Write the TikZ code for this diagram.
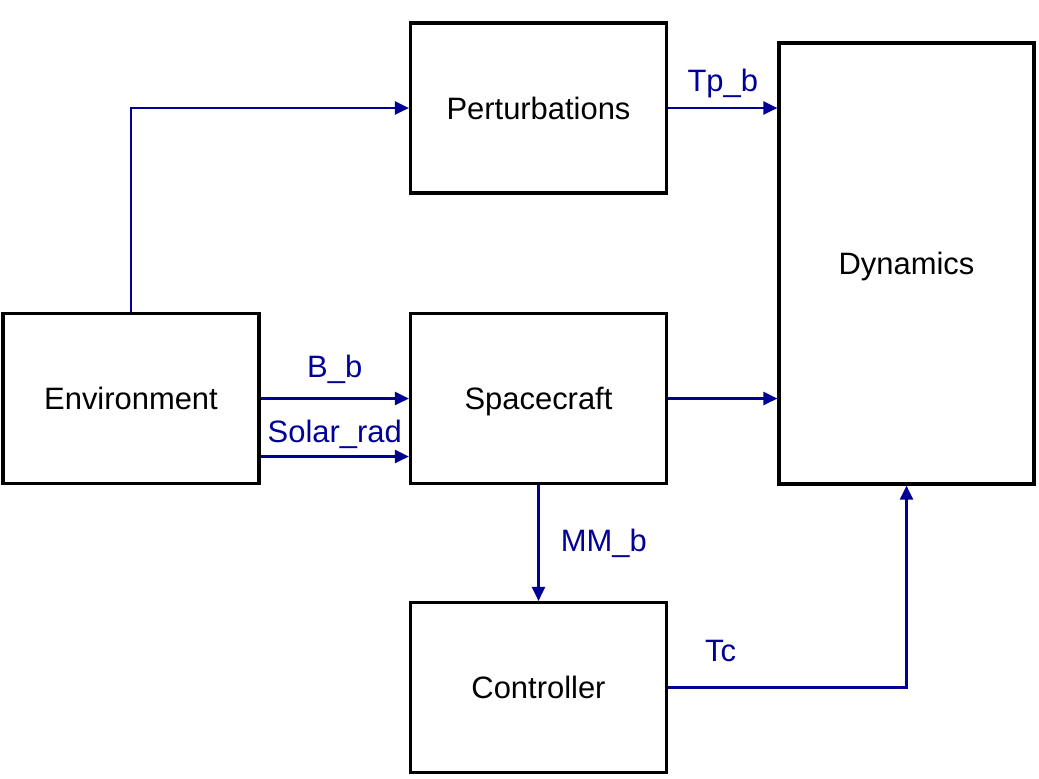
\documentclass[tikz,border=0pt]{standalone}
\usepackage{fontspec}
\setmainfont{Liberation Sans}
\usetikzlibrary{arrows.meta}
\definecolor{sigblue}{RGB}{0,0,150}

\begin{document}
\begin{tikzpicture}[
    block/.style={draw=black,line width=0.9pt,minimum width=2.56cm,minimum height=1.70cm,inner sep=0pt,text depth=0pt,font=\fontsize{8.8}{10.5}\selectfont},
    sig/.style={draw=sigblue,line width=0.7pt,-{Triangle[length=1.4mm,width=1.3mm]}},
    lbl/.style={text=sigblue,font=\fontsize{8.8}{10.5}\selectfont,inner sep=2pt}]

\useasboundingbox (0, 0) rectangle (10.39, 7.78);

\node[block] (env) at (1.31, 3.795) {Environment};
\node[block] (pert) at (5.385, 6.70) {Perturbations};
\node[block] (craft) at (5.385, 3.795) {Spacecraft};
\node[block] (ctrl) at (5.385, 0.905) {Controller};
\node[block,minimum width=2.55cm,minimum height=4.41cm] (dyn) at (9.065, 5.145) {Dynamics};

\draw[sig] (env.north) |- (pert.west);
\draw[sig] (pert.east) -- node[lbl,above=0.6pt] {Tp\_b} (pert.east -| dyn.west);
\draw[sig] (env.east) -- node[lbl,above=1.8pt] {B\_b} (craft.west);
\draw[sig] ([yshift=-0.58cm]env.east) -- node[lbl,above=0pt] {Solar\_rad} ([yshift=-0.58cm]craft.west);
\draw[sig] (craft.east) -- (craft.east -| dyn.west);
\draw[sig] (craft.south) -- node[lbl,right=4pt] {MM\_b} (ctrl.north);
\draw[sig] (ctrl.east) -| node[lbl,above=5pt,pos=0.11] {Tc} (dyn.south);

\end{tikzpicture}
\end{document}
